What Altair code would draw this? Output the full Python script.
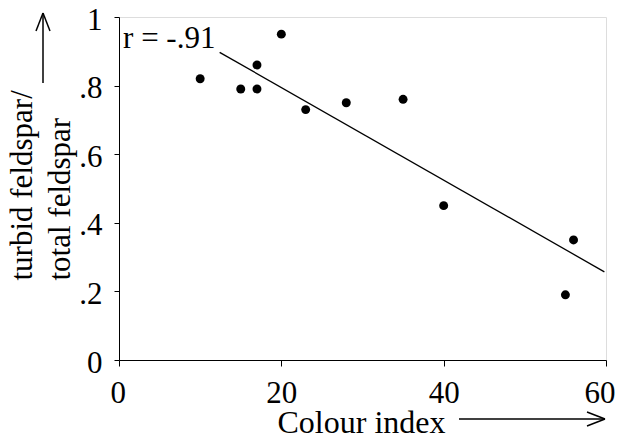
import altair as alt
import pandas as pd

# Data
colour_index = [10, 15, 17, 17, 20, 23, 28, 35, 40, 55, 56]
turbid_ratio = [0.82, 0.79, 0.79, 0.86, 0.95, 0.73, 0.75, 0.76, 0.45, 0.19, 0.35]

fit_x = [12.4, 59.8]
fit_y = [0.897, 0.257]

annot_x = [0.5]
annot_y = [0.91]
annot_text = ["r = -.91"]

x_ticks = [0, 20, 40, 60]
y_ticks = [0, 0.2, 0.4, 0.6, 0.8, 1.0]

FONT = "Liberation Serif"
FS = 31

pts = pd.DataFrame({"x": colour_index, "y": turbid_ratio})
fit = pd.DataFrame({"x": fit_x, "y": fit_y})
ann = pd.DataFrame({"x": annot_x, "y": annot_y, "t": annot_text})

xscale = alt.Scale(domain=[0, 60], nice=False, zero=False)
yscale = alt.Scale(domain=[0, 1], nice=False)

xaxis = alt.Axis(
    values=x_ticks, tickSize=6, labelPadding=12, labelFontSize=FS, labelFont=FONT,
    labelColor="black", domainColor="black", tickColor="black", grid=False,
    title="Colour index", titleFont=FONT, titleFontSize=32, titleFontWeight="normal",
    titleColor="black", titleX=242, titleY=72, titleAlign="center",
    titleBaseline="alphabetic", labelFlush=True, labelFlushOffset=9,
)
yaxis = alt.Axis(
    values=y_ticks, tickSize=5, labelPadding=12, labelFontSize=FS, labelFont=FONT,
    labelColor="black", domainColor="black", tickColor="black", grid=False,
    labelExpr="datum.value == 0 ? '0' : datum.value == 1 ? '1' : replace(format(datum.value, '.1f'), '0.', '.')",
    title=["turbid feldspar/", "total feldspar"], titleFont=FONT, titleFontSize=FS,
    titleFontWeight="normal", titleColor="black", titleAngle=270, titleAlign="left",
    titleBaseline="alphabetic", titleX=-88, titleY=263, titleLineHeight=38,
    labelFlush=False, labelOffset=3,
)

points = alt.Chart(pts).mark_circle(size=80, color="black", opacity=1).encode(
    x=alt.X("x:Q", scale=xscale, axis=xaxis),
    y=alt.Y("y:Q", scale=yscale, axis=yaxis),
)

line = alt.Chart(fit).mark_line(color="black", strokeWidth=1.3).encode(
    x=alt.X("x:Q", scale=xscale), y=alt.Y("y:Q", scale=yscale)
)

text = alt.Chart(ann).mark_text(
    font=FONT, fontSize=FS, align="left", baseline="alphabetic", color="black"
).encode(x=alt.X("x:Q", scale=xscale), y=alt.Y("y:Q", scale=yscale), text="t:N")

# Arrows beside the axis titles (pixel positions relative to plot area)
arrow_df = pd.DataFrame({
    "x": [340, 486, 486, -76, -76, -76],
    "x2": [486, 468, 468, -76, -83, -69],
    "y": [402, 402, 402, 66, -4, -4],
    "y2": [402, 395, 409, -4, 14, 14],
    "k": ["xs", "xh1", "xh2", "ys", "yh1", "yh2"],
})
arrows = alt.Chart(arrow_df).mark_rule(color="black", strokeWidth=1.5).encode(
    x=alt.X("x:Q", scale=None), x2="x2:Q",
    y=alt.Y("y:Q", scale=None), y2="y2:Q",
)

chart = alt.layer(line, points, text, arrows).properties(
    width=487, height=343,
    autosize=alt.AutoSizeParams(type="none"),
    padding={"left": 111, "top": 9, "right": 9, "bottom": 75},
).configure_view(stroke=None).configure(background="white")

chart.save("out.html", embed_options={"renderer": "svg", "actions": False})
